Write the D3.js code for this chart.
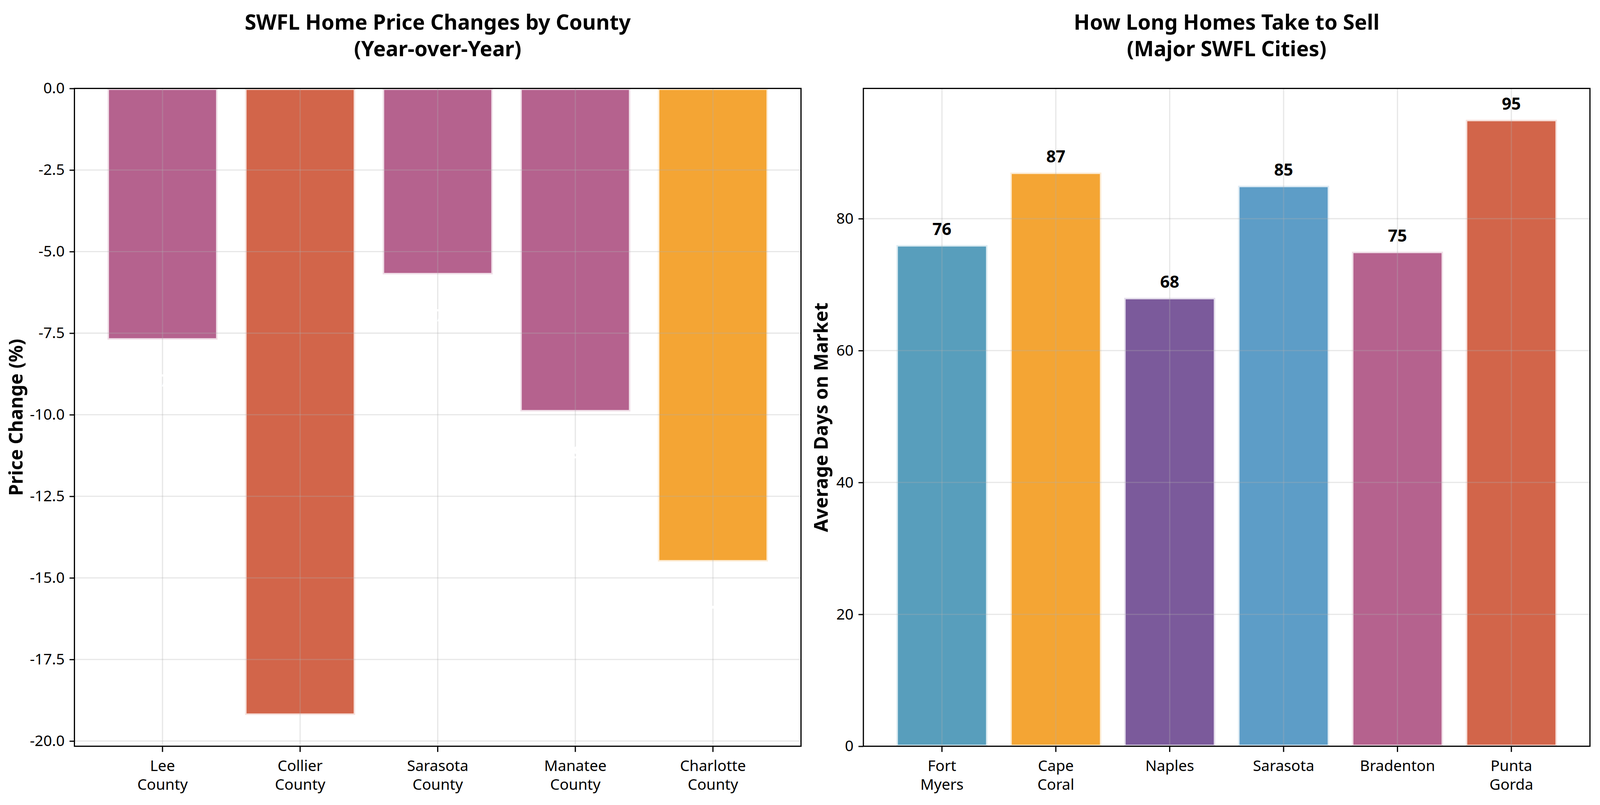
<!DOCTYPE html>
<html>
<head>
<meta charset="utf-8">
<script src="https://cdn.jsdelivr.net/npm/d3@7"></script>
<style>
  html, body { margin: 0; padding: 0; background: #fff; overflow: hidden; }
  #chart { display: block; }
  text { font-family: "Noto Sans", sans-serif; }
</style>
</head>
<body>
<svg id="chart"></svg>
<script>
// --- data ---
const counties = ["Lee County", "Collier County", "Sarasota County", "Manatee County", "Charlotte County"];
const priceChange = [-7.7, -19.2, -5.7, -9.9, -14.5];
const countyColors = ["#A23B72", "#C73E1D", "#A23B72", "#A23B72", "#F18F01"];
const priceTicks = [0, -2.5, -5, -7.5, -10, -12.5, -15, -17.5, -20];

const cities = ["Fort Myers", "Cape Coral", "Naples", "Sarasota", "Bradenton", "Punta Gorda"];
const daysOnMarket = [76, 87, 68, 85, 75, 95];
const cityColors = ["#2E86AB", "#F18F01", "#5A3182", "#3485B9", "#A23B72", "#C73E1D"];
const dayTicks = [0, 20, 40, 60, 80];

// layout is specified for a 4772x2062 figure and stretched to the actual window
const REF_W = 4772, REF_H = 2062;
const vw = window.innerWidth || REF_W, vh = window.innerHeight || REF_H;
const sx = vw / REF_W, sy = vh / REF_H;
const X = v => v * sx, Y = v => v * sy;
const f = Math.sqrt(sx * sy);          // font / stroke scale
const F = v => v * f;

const svg = d3.select('#chart').attr('width', vw).attr('height', vh);

const TICK = 14.6, TICKW = 3.3;

function drawPanel(p) {
  const n = p.cats.length;
  const left = X(p.left), right = X(p.right), top = Y(p.top), bottom = Y(p.bottom);
  const x = d3.scaleBand()
    .domain(p.cats)
    .range([left, right])
    .paddingInner(0.2)
    .paddingOuter(0.05 * (n - 0.2));   // matplotlib's 5% margin
  const y = d3.scaleLinear().domain(p.domain).range([bottom, top]);

  const g = svg.append('g');
  const data = p.cats.map((c, i) => ({ name: c, v: p.vals[i], color: p.colors[i] }));

  // bars
  g.selectAll('rect.bar')
    .data(data)
    .enter().append('rect')
    .attr('class', 'bar')
    .attr('x', d => x(d.name))
    .attr('width', x.bandwidth())
    .attr('y', d => y(Math.max(0, d.v)))
    .attr('height', d => Math.abs(y(d.v) - y(0)))
    .attr('fill', d => d.color)
    .attr('fill-opacity', 0.8)
    .attr('stroke', '#fff')
    .attr('stroke-opacity', 0.8)
    .attr('stroke-width', F(8.3));

  // grid (drawn above bars)
  const grid = g.append('g').attr('stroke', '#b0b0b0').attr('stroke-opacity', 0.3).attr('stroke-width', F(3.3));
  grid.selectAll('line.h').data(p.ticks).enter().append('line')
    .attr('x1', left).attr('x2', right)
    .attr('y1', d => y(d)).attr('y2', d => y(d));
  grid.selectAll('line.v').data(p.cats).enter().append('line')
    .attr('y1', top).attr('y2', bottom)
    .attr('x1', d => x(d) + x.bandwidth() / 2).attr('x2', d => x(d) + x.bandwidth() / 2);

  // value labels
  if (p.labels) p.labels(g, data, x, y);

  // y axis
  const ya = g.append('g')
    .attr('transform', `translate(${left},0)`)
    .call(d3.axisLeft(y).tickValues(p.ticks).tickFormat(p.fmt)
      .tickSize(X(TICK)).tickSizeOuter(0).tickPadding(X(14.6)));
  ya.select('.domain').remove();
  ya.selectAll('line').attr('stroke', '#000').attr('stroke-width', F(TICKW));
  ya.selectAll('text').attr('font-size', F(41.7)).attr('fill', '#000').attr('font-family', '"Noto Sans", sans-serif');

  // x axis
  const xa = g.append('g')
    .attr('transform', `translate(0,${bottom})`)
    .call(d3.axisBottom(x).tickSize(Y(TICK)).tickSizeOuter(0));
  xa.select('.domain').remove();
  xa.selectAll('line').attr('stroke', '#000').attr('stroke-width', F(TICKW));
  xa.selectAll('text')
    .attr('font-size', F(41.7)).attr('fill', '#000').attr('font-family', '"Noto Sans", sans-serif')
    .attr('y', 0).attr('dy', null)
    .each(function(d) {
      const t = d3.select(this).text('');
      d.split(' ').forEach((w, i) => {
        t.append('tspan').attr('x', 0).attr('y', Y(63.5 + i * 48)).text(w);
      });
    });

  // frame
  g.append('rect')
    .attr('x', left).attr('y', top)
    .attr('width', right - left).attr('height', bottom - top)
    .attr('fill', 'none').attr('stroke', '#000').attr('stroke-width', F(3.3));

  // title
  const cx = (left + right) / 2;
  const t = g.append('text').attr('text-anchor', 'middle').attr('font-size', F(58)).attr('font-weight', 'bold');
  p.title.forEach((line, i) => t.append('tspan').attr('x', cx).attr('y', Y(76 + i * 68)).text(line));

  // y label
  g.append('text')
    .attr('transform', `translate(${X(p.ylabelX)},${(top + bottom) / 2}) rotate(-90)`)
    .attr('text-anchor', 'middle')
    .attr('font-size', F(52)).attr('font-weight', 'bold')
    .text(p.ylabel);
}

drawPanel({
  left: 222, right: 2389, top: 226.5, bottom: 1911.5,
  cats: counties, vals: priceChange, colors: countyColors,
  domain: [d3.min(priceChange) * 1.05, 0],
  ticks: priceTicks,
  fmt: d => d.toFixed(1),
  title: ['SWFL Home Price Changes by County', '(Year-over-Year)'],
  ylabel: 'Price Change (%)', ylabelX: 68,
  labels: (g, data, x, y) => {
    // white labels below the bars (barely visible on the white background)
    g.selectAll('text.val').data(data).enter().append('text')
      .attr('class', 'val')
      .attr('x', d => x(d.name) + x.bandwidth() / 2)
      .attr('y', d => y(d.v - 1))
      .attr('dominant-baseline', 'hanging')
      .attr('text-anchor', 'middle')
      .attr('font-size', F(46)).attr('font-weight', 'bold')
      .attr('fill', '#fff')
      .text(d => `${d.v}%`);
  }
});

drawPanel({
  left: 2575, right: 4742, top: 226.5, bottom: 1911.5,
  cats: cities, vals: daysOnMarket, colors: cityColors,
  domain: [0, d3.max(daysOnMarket) * 1.05],
  ticks: dayTicks,
  fmt: d => d,
  title: ['How Long Homes Take to Sell', '(Major SWFL Cities)'],
  ylabel: 'Average Days on Market', ylabelX: 2469,
  labels: (g, data, x, y) => {
    g.selectAll('text.val').data(data).enter().append('text')
      .attr('class', 'val')
      .attr('x', d => x(d.name) + x.bandwidth() / 2)
      .attr('y', d => y(d.v) - Y(26))
      .attr('text-anchor', 'middle')
      .attr('font-size', F(46)).attr('font-weight', 'bold')
      .attr('fill', '#000')
      .text(d => d.v);
  }
});
</script>
</body>
</html>
